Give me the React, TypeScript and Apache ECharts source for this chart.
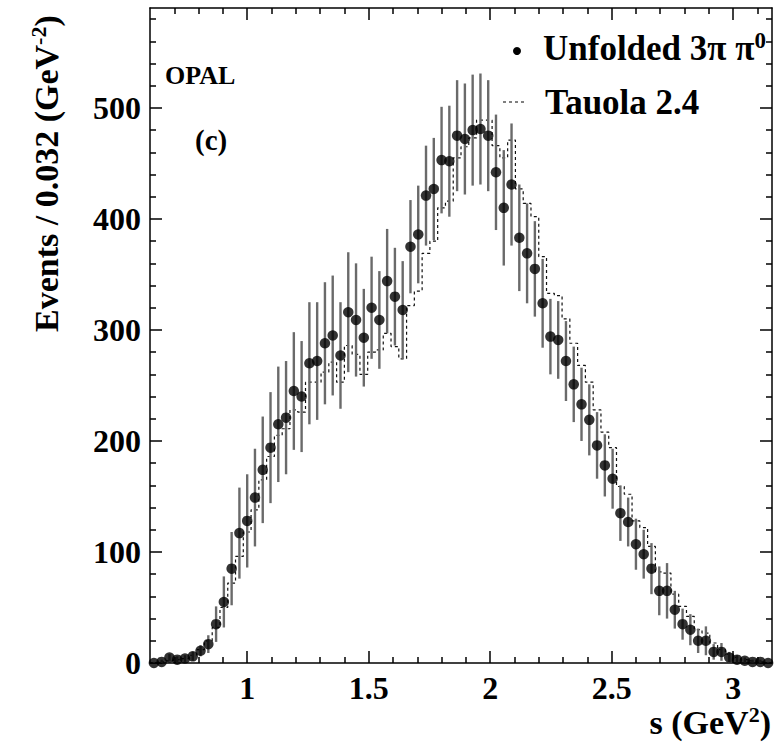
import React, { useEffect, useRef } from "react";
import * as echarts from "echarts";

// ---- Data ----
const binLow = 0.6;
const binWidth = 0.032;
const xMin = 0.6;
const xMax = 3.16;
const yMin = 0;
const yMax = 590;

// Unfolded 3pi pi0 spectrum (events per bin)
const unfolded = [
  0, 1, 5, 3, 4, 6, 11, 17, 35, 55,
  85, 117, 128, 149, 174, 194, 215, 221, 245, 240,
  270, 272, 288, 295, 277, 316, 309, 293, 320, 309,
  344, 330, 318, 375, 386, 421, 427, 453, 452, 475,
  472, 480, 481, 475, 442, 410, 431, 383, 369, 355,
  324, 294, 291, 272, 251, 233, 219, 196, 178, 166,
  135, 127, 107, 98, 85, 65, 65, 48, 35, 30,
  20, 20, 10, 10, 5, 3, 2, 1, 1, 0,
];

// symmetric error bar half-lengths
const unfoldedErr = [
  1, 2, 3, 3, 3, 4, 5, 8, 16, 23,
  33, 41, 42, 44, 48, 50, 52, 51, 53, 50,
  55, 53, 55, 54, 48, 54, 51, 44, 46, 44,
  47, 44, 44, 42, 44, 45, 46, 48, 50, 50,
  50, 50, 50, 50, 52, 52, 55, 48, 45, 43,
  40, 34, 35, 36, 34, 33, 32, 30, 28, 27,
  25, 22, 23, 22, 23, 22, 25, 17, 14, 14,
  11, 13, 7, 8, 5, 4, 3, 2, 2, 1,
];

// Tauola 2.4 prediction (histogram)
const tauola = [
  0, 1, 2, 3, 4, 7, 12, 20, 32, 50,
  72, 96, 118, 138, 165, 186, 205, 211, 228, 226,
  253, 253, 262, 271, 253, 286, 278, 260, 280, 282,
  297, 285, 274, 322, 335, 369, 380, 410, 416, 455,
  465, 473, 489, 489, 466, 455, 471, 427, 414, 402,
  366, 333, 331, 310, 288, 268, 253, 228, 208, 194,
  159, 152, 128, 122, 105, 82, 81, 62, 51, 42,
  30, 27, 18, 12, 8, 5, 3, 2, 1, 0,
];

const xMajorTicks = [1, 1.5, 2, 2.5, 3];
const xMinorTicks = [0.7, 0.8, 0.9, 1.1, 1.2, 1.3, 1.4, 1.6, 1.7, 1.8, 1.9, 2.1, 2.2, 2.3, 2.4, 2.6, 2.7, 2.8, 2.9, 3.1];
const yMajorTicks = [0, 100, 200, 300, 400, 500];
const yMinorTicks = [20, 40, 60, 80, 120, 140, 160, 180, 220, 240, 260, 280, 320, 340, 360, 380, 420, 440, 460, 480, 520, 540, 560, 580];

const FONT = '"Liberation Serif", "Times New Roman", serif';

export default function App() {
  const ref = useRef<HTMLDivElement>(null);

  useEffect(() => {
    if (!ref.current) return;
    const chart = echarts.init(ref.current, undefined, { renderer: "svg" });

    const centers = unfolded.map((_, i) => binLow + binWidth * (i + 0.5));
    const points = unfolded.map((v, i) => [centers[i], v]);
    const errBars = unfolded.map((v, i) => [centers[i], Math.max(0, v - unfoldedErr[i]), v + unfoldedErr[i]]);
    const histo: number[][] = tauola.map((v, i) => [binLow + binWidth * i, v]);
    histo.push([binLow + binWidth * tauola.length, tauola[tauola.length - 1]]);

    const axisBlack = { color: "#000", width: 1.5 };
    const labelStyle = { fontFamily: FONT, fontWeight: "bold" as const, fontSize: 32, color: "#000" };

    const xBase = { type: "value" as const, min: xMin, max: xMax, gridIndex: 0, splitLine: { show: false } };
    const yBase = { type: "value" as const, min: yMin, max: yMax, gridIndex: 0, splitLine: { show: false } };

    const richTitle = {
      b: { fontFamily: FONT, fontWeight: "bold", fontSize: 34, color: "#000", lineHeight: 38 },
      sup: { fontFamily: FONT, fontWeight: "bold", fontSize: 22, color: "#000", lineHeight: 38, verticalAlign: "top", padding: [0, 0, 16, 0] },
    };
    const richLegend = {
      b: { fontFamily: FONT, fontWeight: "bold", fontSize: 35, color: "#000", lineHeight: 38 },
      sup: { fontFamily: FONT, fontWeight: "bold", fontSize: 23, color: "#000", lineHeight: 38, verticalAlign: "top", padding: [0, 0, 18, 0] },
    };

    chart.setOption({
      animation: false,
      backgroundColor: "#fff",
      grid: { left: 150, right: 8, top: 8, bottom: 80, containLabel: false, outerBoundsMode: "none" },
      xAxis: [
        {
          ...xBase,
          position: "bottom",
          axisLine: { show: true, onZero: false, lineStyle: axisBlack },
          axisTick: { show: true, inside: true, length: 12, customValues: xMajorTicks, lineStyle: axisBlack },
          axisLabel: { ...labelStyle, margin: 9, customValues: xMajorTicks, formatter: (v: number) => String(v) },
        },
        {
          ...xBase,
          position: "bottom",
          axisLine: { show: false, onZero: false },
          axisTick: { show: true, inside: true, length: 6, customValues: xMinorTicks, lineStyle: axisBlack },
          axisLabel: { show: false },
        },
        {
          ...xBase,
          position: "top",
          axisLine: { show: true, onZero: false, lineStyle: axisBlack },
          axisTick: { show: true, inside: true, length: 12, customValues: xMajorTicks, lineStyle: axisBlack },
          axisLabel: { show: false },
        },
        {
          ...xBase,
          position: "top",
          axisLine: { show: false, onZero: false },
          axisTick: { show: true, inside: true, length: 6, customValues: xMinorTicks, lineStyle: axisBlack },
          axisLabel: { show: false },
        },
      ],
      yAxis: [
        {
          ...yBase,
          position: "left",
          axisLine: { show: true, onZero: false, lineStyle: axisBlack },
          axisTick: { show: true, inside: true, length: 12, customValues: yMajorTicks, lineStyle: axisBlack },
          axisLabel: { ...labelStyle, margin: 9, customValues: yMajorTicks },
        },
        {
          ...yBase,
          position: "left",
          axisLine: { show: false, onZero: false },
          axisTick: { show: true, inside: true, length: 6, customValues: yMinorTicks, lineStyle: axisBlack },
          axisLabel: { show: false },
        },
        {
          ...yBase,
          position: "right",
          axisLine: { show: true, onZero: false, lineStyle: axisBlack },
          axisTick: { show: true, inside: true, length: 12, customValues: yMajorTicks, lineStyle: axisBlack },
          axisLabel: { show: false },
        },
        {
          ...yBase,
          position: "right",
          axisLine: { show: false, onZero: false },
          axisTick: { show: true, inside: true, length: 6, customValues: yMinorTicks, lineStyle: axisBlack },
          axisLabel: { show: false },
        },
      ],
      series: [
        {
          name: "Tauola 2.4",
          type: "line",
          xAxisIndex: 0,
          yAxisIndex: 0,
          step: "end",
          symbol: "none",
          data: histo,
          lineStyle: { color: "#111", width: 1.2, type: [3, 3] },
          z: 3,
        },
        {
          name: "errors",
          type: "custom",
          xAxisIndex: 0,
          yAxisIndex: 0,
          clip: true,
          data: errBars,
          renderItem: (params: any, api: any) => {
            const x = api.value(0);
            const p1 = api.coord([x, api.value(1)]);
            const p2 = api.coord([x, api.value(2)]);
            return {
              type: "line",
              shape: { x1: p1[0], y1: p1[1], x2: p2[0], y2: p2[1] },
              style: { stroke: "#6a6a6a", lineWidth: 2.4 },
            };
          },
          z: 4,
        },
        {
          name: "Unfolded 3π π0",
          type: "scatter",
          xAxisIndex: 0,
          yAxisIndex: 0,
          symbol: "circle",
          symbolSize: 10.5,
          data: points,
          itemStyle: { color: "#000" },
          z: 5,
        },
      ],
      graphic: [
        {
          type: "text",
          x: 165,
          y: 75,
          style: { text: "OPAL", font: `bold 26px ${FONT}`, fill: "#000", align: "left", verticalAlign: "middle", textAlign: "left", textVerticalAlign: "middle" },
        },
        {
          type: "text",
          x: 195,
          y: 140,
          style: { text: "(c)", font: `bold 29px ${FONT}`, fill: "#000", align: "left", verticalAlign: "middle", textAlign: "left", textVerticalAlign: "middle" },
        },
        {
          type: "circle",
          shape: { cx: 517, cy: 51, r: 4 },
          style: { fill: "#000" },
        },
        {
          type: "text",
          x: 543,
          y: 48,
          style: { text: "{b|Unfolded 3π π}{sup|0}", rich: richLegend, align: "left", verticalAlign: "middle", textAlign: "left", textVerticalAlign: "middle" },
        },
        {
          type: "line",
          shape: { x1: 503, y1: 102, x2: 525, y2: 102 },
          style: { stroke: "#000", lineWidth: 1, lineDash: [3, 3] },
        },
        {
          type: "text",
          x: 545,
          y: 102,
          style: { text: "{b|Tauola 2.4}", rich: richLegend, align: "left", verticalAlign: "middle", textAlign: "left", textVerticalAlign: "middle" },
        },
        {
          type: "text",
          x: 771,
          y: 722,
          style: { text: "{b|s (GeV}{sup|2}{b|)}", rich: richTitle, align: "right", verticalAlign: "middle", textAlign: "right", textVerticalAlign: "middle" },
        },
        {
          type: "text",
          x: 46,
          y: 332,
          rotation: Math.PI / 2,
          style: { text: "{b|Events / 0.032 (GeV}{sup|-2}{b|)}", rich: richTitle, align: "left", verticalAlign: "middle", textAlign: "left", textVerticalAlign: "middle" },
        },
      ],
    });

    return () => chart.dispose();
  }, []);

  return <div ref={ref} style={{ position: "fixed", left: 0, top: 0, width: 780, height: 743, background: "#fff" }} />;
}
